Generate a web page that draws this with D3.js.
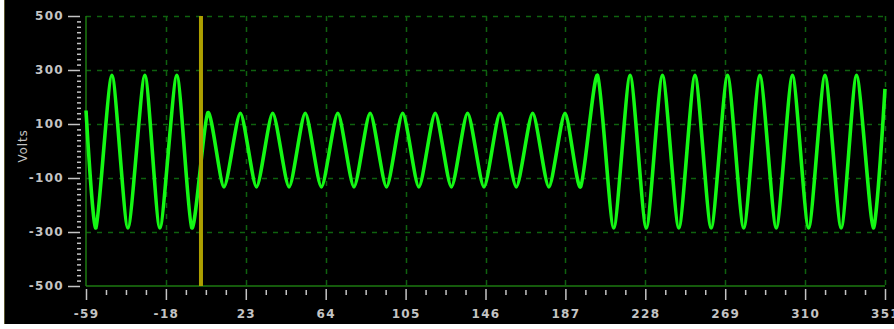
<!DOCTYPE html>
<html><head><meta charset="utf-8">
<script src="https://cdn.jsdelivr.net/npm/d3@7"></script>
<style>
html,body{margin:0;padding:0;background:#fff;overflow:hidden}
svg{display:block}
.lbl{font-family:"DejaVu Sans",sans-serif;font-weight:bold;font-size:12px;fill:#c4c4c4;letter-spacing:1.3px}
.ttl{font-family:"DejaVu Sans",sans-serif;font-size:12px;fill:#c4c4c4;letter-spacing:0.8px}
</style></head><body>
<svg id="c" width="894" height="329"></svg>
<script>
// ---- data (time in ms, volts) ----
const xTicks = [-59, -18, 23, 64, 105, 146, 187, 228, 269, 310, 351];
const yTicks = [500, 300, 100, -100, -300, -500];
const yLabel = "Volts";
const cursorTime = 0;
// waveform extremes
const waveTime = [
  -59, -53.9, -45.7, -37.5, -28.8, -21.1, -12.4, -4.7,
  3.5, 11.8, 20.2, 28.5, 36.8, 45.2, 53.5, 61.8, 70.2, 78.5, 86.8, 95.2,
  103.5, 111.8, 120.2, 128.5, 136.8, 145.2, 153.5, 161.8, 170.2, 178.5, 186.8, 194.8,
  203.5, 211.8, 220.2, 228.5, 236.8, 245.2, 253.5, 261.8, 270.2, 278.5, 286.8, 295.2,
  303.5, 311.8, 320.2, 328.5, 336.4, 345.0, 351
];
const waveVolts = [
  150, -285, 280, -285, 280, -285, 280, -285,
  142, -133, 140, -133, 140, -133, 140, -133, 140, -133, 140, -133,
  140, -133, 140, -133, 140, -133, 140, -133, 140, -133, 140, -133,
  280, -285, 280, -285, 280, -285, 280, -285, 280, -285, 280, -285,
  280, -285, 280, -285, 280, -285, 230
];

const svg = d3.select("#c");
const L = 86, R = 885, T = 16, B = 286;
const x = d3.scaleLinear().domain([-59, 351]).range([L, R]);
const y = d3.scaleLinear().domain([-500, 500]).range([B, T]);

// panel
svg.append("rect").attr("x", 4).attr("y", 0).attr("width", 890).attr("height", 324).attr("fill", "#000");
svg.append("line").attr("x1", 4.5).attr("x2", 4.5).attr("y1", 0).attr("y2", 324).attr("stroke", "#5a5630").attr("stroke-width", 1);

const gridCol = "#0f620f";
// horizontal grid
svg.append("g").selectAll("line").data(yTicks.filter(v => v !== -500)).join("line")
  .attr("x1", L).attr("x2", R).attr("y1", d => Math.round(y(d)) + 0.5).attr("y2", d => Math.round(y(d)) + 0.5)
  .attr("stroke", gridCol).attr("stroke-width", 1.5).attr("stroke-dasharray", "5,6");
// vertical grid
svg.append("g").selectAll("line").data(xTicks.slice(1)).join("line")
  .attr("y1", T).attr("y2", B).attr("x1", d => Math.round(x(d)) + 0.5).attr("x2", d => Math.round(x(d)) + 0.5)
  .attr("stroke", gridCol).attr("stroke-width", 1.5).attr("stroke-dasharray", "5,6");
// borders
svg.append("line").attr("x1", L).attr("x2", L).attr("y1", T).attr("y2", B).attr("stroke", "#1d7a10").attr("stroke-width", 1.5);
svg.append("line").attr("x1", L).attr("x2", R).attr("y1", B).attr("y2", B).attr("stroke", "#1d7a10").attr("stroke-width", 1.5);

// waveform
const pts = waveTime.map((t, i) => [t, waveVolts[i]]);
const line = d3.line().x(d => x(d[0])).y(d => y(d[1])).curve(d3.curveCardinal.tension(0.3));
svg.append("path").datum(pts).attr("d", line).attr("fill", "none")
  .attr("stroke", "#14f814").attr("stroke-width", 3.6).attr("stroke-linejoin", "round");

// cursor
svg.append("line").attr("x1", x(cursorTime)).attr("x2", x(cursorTime)).attr("y1", T).attr("y2", B)
  .attr("stroke", "#ad9f00").attr("stroke-width", 4);

// y axis
const fmt = d => String(d);
const yMinor = d3.range(-500, 501, 20).filter(v => !yTicks.includes(v));
const ya = svg.append("g").attr("transform", "translate(80,0)")
  .call(d3.axisLeft(y).tickValues(yTicks).tickSize(12).tickPadding(4).tickFormat(fmt));
const yb = svg.append("g").attr("transform", "translate(81,0)")
  .call(d3.axisLeft(y).tickValues(yMinor).tickSize(4).tickFormat(""));
// x axis
const xMinor = [];
for (let i = 0; i < xTicks.length - 1; i++) for (let k = 1; k < 4; k++) xMinor.push(xTicks[i] + k * (xTicks[i+1] - xTicks[i]) / 4);
const xa = svg.append("g").attr("transform", "translate(0,289)")
  .call(d3.axisBottom(x).tickValues(xTicks).tickSize(11).tickPadding(9).tickFormat(fmt));
const xb = svg.append("g").attr("transform", "translate(0,290)")
  .call(d3.axisBottom(x).tickValues(xMinor).tickSize(5).tickFormat(""));
[ya, yb, xa, xb].forEach(g => {
  g.select(".domain").remove();
  g.selectAll(".tick line").attr("stroke", "#c4c4c4").attr("stroke-width", 1.5);
  g.selectAll("text").attr("class", "lbl").attr("fill", null).attr("font-family", null).attr("font-size", null);
});

svg.append("text").attr("class", "ttl").attr("transform", "translate(27,146) rotate(-90)")
  .attr("text-anchor", "middle").text(yLabel);
</script>
</body></html>
